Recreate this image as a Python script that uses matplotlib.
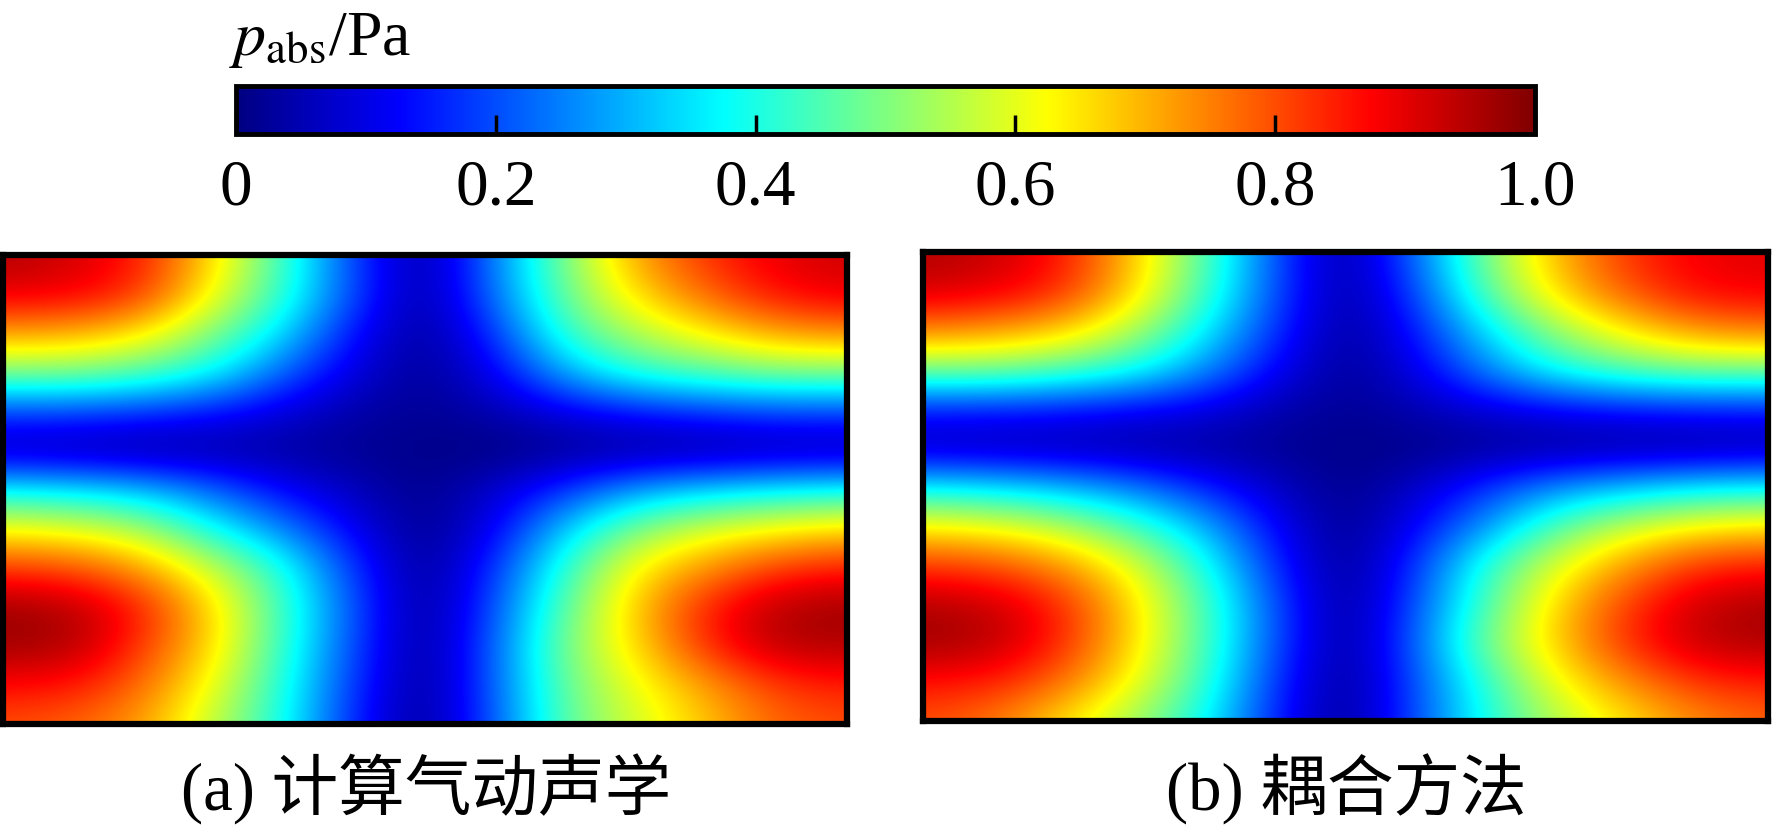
import numpy as np
import matplotlib
matplotlib.use('Agg')
import matplotlib.pyplot as plt
from matplotlib.colors import LinearSegmentedColormap

plt.rcParams['font.family'] = ['Liberation Serif', 'Noto Sans CJK SC']
plt.rcParams['mathtext.fontset'] = 'stix'

W, H = 1772, 828

p_caa = np.array([
    [0.95, 0.92, 0.85, 0.66, 0.43, 0.18, 0.02, 0.25, 0.50, 0.72, 0.83, 0.90, 0.92],
    [0.90, 0.89, 0.83, 0.62, 0.42, 0.19, 0.02, 0.24, 0.48, 0.66, 0.78, 0.87, 0.90],
    [0.72, 0.71, 0.65, 0.50, 0.34, 0.13, 0.02, 0.17, 0.43, 0.55, 0.64, 0.72, 0.74],
    [0.50, 0.50, 0.46, 0.38, 0.22, 0.09, 0.02, 0.11, 0.30, 0.42, 0.46, 0.50, 0.50],
    [0.19, 0.19, 0.17, 0.14, 0.09, 0.04, 0.02, 0.05, 0.10, 0.14, 0.17, 0.19, 0.19],
    [0.04, 0.03, 0.02, 0.03, 0.03, 0.02, 0.01, 0.00, 0.02, 0.02, 0.02, 0.03, 0.03],
    [0.37, 0.35, 0.31, 0.22, 0.12, 0.06, 0.01, 0.08, 0.17, 0.28, 0.33, 0.36, 0.38],
    [0.62, 0.60, 0.54, 0.38, 0.25, 0.11, 0.01, 0.11, 0.33, 0.50, 0.59, 0.63, 0.66],
    [0.82, 0.80, 0.72, 0.57, 0.40, 0.17, 0.01, 0.17, 0.42, 0.64, 0.73, 0.82, 0.85],
    [0.97, 0.95, 0.85, 0.66, 0.43, 0.20, 0.01, 0.20, 0.47, 0.68, 0.85, 0.95, 0.97],
    [0.97, 0.96, 0.82, 0.66, 0.42, 0.19, 0.01, 0.22, 0.50, 0.66, 0.84, 0.95, 0.95],
    [0.87, 0.86, 0.77, 0.61, 0.40, 0.17, 0.01, 0.22, 0.48, 0.61, 0.72, 0.82, 0.85],
    [0.80, 0.78, 0.72, 0.56, 0.39, 0.15, 0.01, 0.21, 0.47, 0.58, 0.68, 0.78, 0.80],
])

p_coupled = np.array([
    [0.95, 0.93, 0.86, 0.68, 0.46, 0.20, 0.02, 0.23, 0.50, 0.70, 0.83, 0.89, 0.90],
    [0.92, 0.90, 0.84, 0.67, 0.44, 0.20, 0.02, 0.19, 0.47, 0.67, 0.80, 0.88, 0.89],
    [0.75, 0.73, 0.68, 0.55, 0.37, 0.17, 0.02, 0.14, 0.35, 0.53, 0.65, 0.74, 0.76],
    [0.50, 0.50, 0.46, 0.40, 0.27, 0.12, 0.02, 0.10, 0.26, 0.40, 0.47, 0.50, 0.50],
    [0.15, 0.15, 0.14, 0.12, 0.10, 0.05, 0.02, 0.05, 0.09, 0.12, 0.14, 0.15, 0.15],
    [0.05, 0.04, 0.04, 0.03, 0.03, 0.02, 0.01, 0.01, 0.02, 0.02, 0.02, 0.02, 0.03],
    [0.36, 0.34, 0.30, 0.24, 0.15, 0.07, 0.01, 0.07, 0.17, 0.26, 0.31, 0.35, 0.36],
    [0.63, 0.61, 0.55, 0.44, 0.30, 0.12, 0.01, 0.12, 0.27, 0.46, 0.57, 0.63, 0.65],
    [0.82, 0.80, 0.73, 0.60, 0.40, 0.16, 0.01, 0.17, 0.42, 0.60, 0.73, 0.83, 0.85],
    [0.95, 0.93, 0.84, 0.66, 0.45, 0.20, 0.01, 0.20, 0.45, 0.67, 0.82, 0.93, 0.96],
    [0.97, 0.95, 0.84, 0.66, 0.45, 0.20, 0.01, 0.22, 0.50, 0.68, 0.84, 0.94, 0.96],
    [0.86, 0.85, 0.77, 0.62, 0.43, 0.17, 0.01, 0.20, 0.42, 0.62, 0.74, 0.83, 0.85],
    [0.80, 0.76, 0.65, 0.53, 0.38, 0.15, 0.01, 0.20, 0.40, 0.55, 0.65, 0.74, 0.78],
])

cbar_ticks = [0, 0.2, 0.4, 0.6, 0.8, 1.0]
cbar_labels = ['0', '0.2', '0.4', '0.6', '0.8', '1.0']
captions = ['(a) 计算气动声学', '(b) 耦合方法']

# rainbow as seen on the reference colour bar, pure cyan and yellow at the corners
stop_positions = [0, 0.125, 0.375, 0.625, 0.875, 1.0]
stop_colours = ['#000080', '#0000ff', '#00ffff', '#ffff00', '#ff0000', '#800000']
rainbow = LinearSegmentedColormap.from_list('rainbow_bar', list(zip(stop_positions, stop_colours)), N=512)


def px_axes(fig, x0, y0, x1, y1):
    # axes from pixel box, y counted from the top of the picture
    return fig.add_axes([x0 / W, 1 - y1 / H, (x1 - x0) / W, (y1 - y0) / H])


def draw_panel(ax, values):
    n_rows, n_cols = values.shape
    # pixel centres sit on the frame, so the field runs right up to the edge
    im = ax.imshow(values, cmap=rainbow, vmin=0, vmax=1, aspect='auto',
                   interpolation='bicubic',
                   extent=(-0.5, n_cols - 0.5, n_rows - 0.5, -0.5))
    ax.set_xlim(0, n_cols - 1)
    ax.set_ylim(n_rows - 1, 0)
    ax.set_xticks([])
    ax.set_yticks([])
    for spine in ax.spines.values():
        spine.set_linewidth(4.5)
        spine.set_color('black')
    return im


fig = plt.figure(figsize=(W / 100, H / 100), dpi=100)

ax_a = px_axes(fig, 3, 256, 847, 725)
im = draw_panel(ax_a, p_caa)
ax_b = px_axes(fig, 923, 253, 1768, 722)
draw_panel(ax_b, p_coupled)

cax = px_axes(fig, 236, 87, 1535, 135)
cbar = fig.colorbar(im, cax=cax, orientation='horizontal', ticks=cbar_ticks)
cbar.ax.set_xticklabels(cbar_labels)
cbar.ax.tick_params(axis='x', direction='in', length=13.5, width=2.5,
                    labelsize=47, pad=17, color='black')
cbar.outline.set_linewidth(3.5)

fig.text(229 / W, 1 - 55 / H, r'$\mathit{p}_{\mathrm{abs}}$/Pa', fontsize=46,
         ha='left', va='baseline')

fig.text(181 / W, 1 - 811 / H, captions[0], fontsize=48, ha='left', va='baseline')
fig.text(1166 / W, 1 - 811 / H, captions[1], fontsize=48, ha='left', va='baseline')

fig.savefig('out.png', dpi=100)
plt.close(fig)
